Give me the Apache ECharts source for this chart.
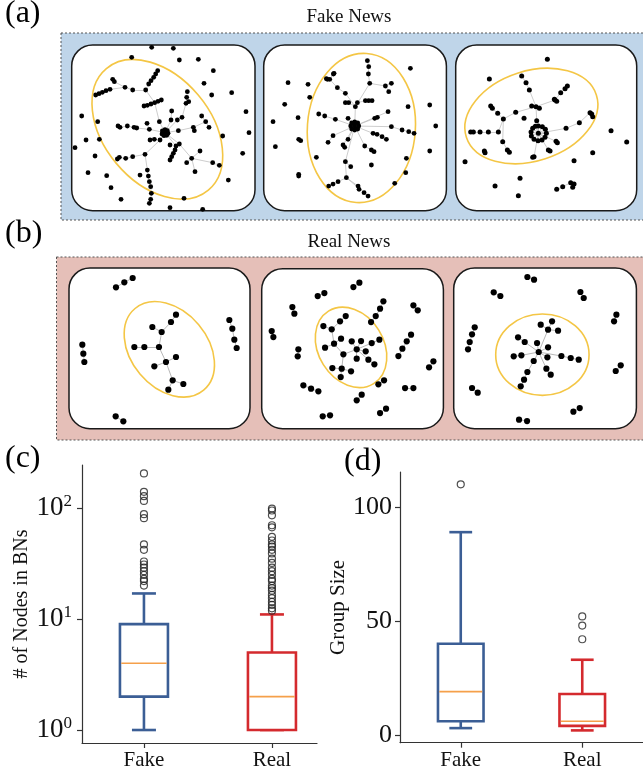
<!DOCTYPE html>
<html><head><meta charset="utf-8">
<script src="https://cdn.jsdelivr.net/npm/echarts@6/dist/echarts.min.js"></script>
<style>html,body{margin:0;padding:0;background:#fff}#main{width:643px;height:777px}</style>
</head><body><div id="main"></div>
<script>
// ================= DATA =================
const categories = ['Fake', 'Real'];
const positions = [1, 2];
// (c) number of nodes in BNs : [min, q1, median, q3, max]
const nodesFake = [1, 2, 4, 9, 17];
const nodesReal = [1, 1, 2, 5, 11];
const nodesFakeOutliers = [205, 140, 128, 116, 88, 81, 47, 42, 33, 31, 29, 27, 25, 23, 22, 20];
const nodesRealOutliers = [99, 95, 86, 70, 67, 55, 51, 47, 45, 42, 39, 35, 32, 29, 27, 25, 23, 22, 20, 19, 18, 16.5, 15.4, 14.3, 13.4, 12.5, 11.9];
const nodesTicks = [1, 10, 100];
// (d) group size : [min, q1, median, q3, max]
const groupFake = [3, 6, 19, 40, 89];
const groupReal = [2, 4, 6, 18, 33];
const groupFakeOutliers = [110];
const groupRealOutliers = [52, 48, 42];
const groupTicks = [0, 50, 100];

// Network sketches: node positions (panel-local units), chains of linked nodes
const a1Paths = [
  [[315,278],[298,245],[284,188],[257,150]],
  [[252,198],[262,196],[273,192],[284,188],[294,184],[304,180]],
  [[257,150],[266,132],[273,122],[281,112],[287,102],[293,92]],
  [[257,150],[218,150],[195,142],[163,125],[158,118]],
  [[195,142],[150,148],[138,152],[127,157],[117,161],[107,165]],
  [[315,278],[333,240],[335,213]],
  [[315,278],[352,240],[366,232],[378,190],[380,172],[382,155]],
  [[378,190],[386,185]],
  [[315,278],[355,272],[400,262],[437,245],[425,228]],
  [[437,245],[447,262]],
  [[400,262],[403,272]],
  [[315,278],[268,268],[230,264],[222,262],[202,258],[180,262],[174,258]],
  [[268,268],[261,250]],
  [[315,278],[300,300],[255,343]],
  [[300,300],[283,298],[270,300]],
  [[255,343],[218,350],[197,355],[178,352],[172,357]],
  [[255,343],[262,390],[265,408],[268,425],[272,440],[274,460],[272,478],[268,490]],
  [[315,278],[348,318],[345,330],[340,340],[335,350],[330,360]],
  [[315,278],[358,312],[395,355],[420,333]],
  [[395,355],[405,395]],
  [[395,355],[380,368]],
  [[395,355],[458,368],[478,376]]
];
const a1Dots = [[275,22],[340,25],[215,52],[358,60],[415,58],[460,92],[432,130],[515,158],[455,165],[558,215],[65,228],[78,300],[45,323],[105,348],[567,278],[548,340],[488,288],[84,398],[140,407],[153,443],[183,478],[330,503],[428,508],[505,420],[372,475],[113,245],[118,298],[240,405],[330,315]];
const a1Hub = [315,278];
const a1Ring = [[315,269],[322,272],[324,280],[320,286],[312,287],[306,282],[307,273]];
const a1Ellipse = [292,268,238,160,50];

const a2Paths = [
  [[290,258],[292,200],[335,130]],
  [[335,130],[331,102],[332,80],[328,62]],
  [[335,130],[382,138],[400,130]],
  [[382,138],[392,155]],
  [[292,200],[262,160],[238,143],[215,118],[226,102]],
  [[215,118],[205,116]],
  [[292,200],[272,188],[262,188]],
  [[292,200],[298,188],[322,182],[332,182],[342,182]],
  [[290,258],[232,238],[200,228],[182,222]],
  [[290,258],[270,235]],
  [[290,258],[350,235],[358,232]],
  [[290,258],[390,215]],
  [[290,258],[400,260],[432,270],[452,275],[468,280]],
  [[290,258],[345,280],[357,283],[372,290],[385,298]],
  [[290,258],[320,318],[340,330],[348,335]],
  [[290,258],[262,365],[265,413]],
  [[262,365],[278,380]],
  [[265,413],[240,425],[225,432],[212,438]],
  [[265,413],[300,438],[303,448]],
  [[265,413],[318,458],[330,468]],
  [[290,258],[225,287],[210,307]],
  [[290,258],[255,315],[260,322]],
  [[290,258],[270,298]]
];
const a2Dots = [[90,128],[150,133],[155,172],[80,193],[45,245],[120,233],[52,320],[122,298],[128,302],[122,403],[122,408],[175,352],[457,85],[450,200],[515,195],[533,258],[515,333],[445,355],[443,398],[340,375],[410,430],[228,100],[208,118]];
const a2Hub = [290,258];
const a2Ring = [[290,246],[299,249],[302,258],[299,267],[290,270],[281,267],[278,258],[281,249]];
const a2Ellipse = [310,264,162,224,4];

const a3Paths = [
  [[265,280],[260,242],[258,200]],
  [[258,200],[238,150],[228,128],[215,108]],
  [[258,200],[315,180],[332,158],[345,146],[352,138]],
  [[258,200],[197,217],[160,237]],
  [[160,237],[143,220],[127,205],[122,198]],
  [[160,237],[145,276],[115,276],[90,276],[70,276],[62,276]],
  [[160,237],[158,305],[172,330],[178,337]],
  [[265,280],[348,265],[388,248],[420,218]],
  [[420,218],[428,230]],
  [[265,280],[295,330]],
  [[265,280],[318,304]],
  [[265,280],[252,350]],
  [[320,448],[338,440],[362,428]],
  [[362,428],[372,432]],
  [[362,428],[368,442]]
];
const a3Dots = [[292,58],[118,117],[45,365],[135,438],[210,415],[205,467],[372,362],[428,338],[483,272],[530,306],[222,235],[245,198],[268,205],[105,338],[300,333],[322,308],[248,352],[425,222],[103,333],[313,178],[320,184]];
const a3Hub = [265,280];
const a3Ring = [[265,258],[277,260],[286,268],[289,280],[285,292],[276,300],[264,302],[252,298],[244,288],[243,276],[248,265],[256,259]];
const a3Ellipse = [244,228,205,135,-18];

const b1Paths = [
  [[363,170],[348,192],[320,222],[292,207]],
  [[320,222],[312,267],[268,267],[238,267]],
  [[312,267],[333,312],[363,297]],
  [[333,312],[298,325]],
  [[333,312],[353,367],[385,378]],
  [[353,367],[340,395]],
  [[183,88],[208,73],[233,60]],
  [[82,260],[85,287],[88,312]],
  [[523,186],[532,212],[538,245],[545,270]],
  [[182,475],[205,490]]
];
const b1Ellipse = [343,274,160,115,50];

const b2Paths = [
  [[265,277],[237,245],[230,202],[205,192]],
  [[230,202],[255,178],[272,162]],
  [[237,245],[210,257]],
  [[237,245],[258,230]],
  [[265,277],[260,320],[232,318]],
  [[260,320],[288,328]],
  [[260,320],[257,345]],
  [[265,277],[305,262],[290,238]],
  [[305,262],[318,237]],
  [[305,262],[332,268]],
  [[305,262],[305,290]],
  [[305,262],[340,293],[358,307]],
  [[305,262],[350,243],[373,233]],
  [[348,180],[362,162],[375,140],[385,118]],
  [[295,75],[313,62]],[[188,102],[208,93]],[[112,135],[118,155]],[[50,207],[55,225]],
  [[130,262],[128,283]],[[475,130],[488,145]],[[468,218],[455,238],[442,260],[430,282]],
  [[535,298],[522,316]],[[145,370],[168,380],[190,388]],[[387,355],[370,367]],
  [[320,398],[305,415]],[[450,378],[475,378]],[[203,463],[225,460]],[[393,440],[375,453]]
];
const b2Ellipse = [288,256,128,98,58];

const b3Paths = [
  [[272,270],[300,203],[278,188]],
  [[300,203],[312,178]],
  [[300,203],[330,206]],
  [[272,270],[267,243]],
  [[272,270],[230,240],[210,226]],
  [[272,270],[300,256]],
  [[272,270],[220,280],[197,283]],
  [[272,270],[298,286]],
  [[272,270],[340,282],[368,288],[392,293]],
  [[272,270],[257,297],[238,330],[228,353],[218,373]],
  [[272,270],[295,320],[308,338]],
  [[238,45],[258,53]],[[137,91],[157,102]],[[397,90],[407,108]],[[505,158],[498,178]],
  [[80,196],[72,217],[65,240],[60,262]],[[72,378],[89,392]],[[518,310],[503,327]],
  [[395,438],[376,449]],[[213,473],[237,477]]
];
const b3Ellipse = [283,278,140,122,0];

// ================= LAYOUT =================
const FONT = "'Liberation Serif','Times New Roman',serif";
const AXC = '#333';
const fakeColor = '#3b5e95', realColor = '#d42a2e', medianColor = '#f5a04a';
// panel boxes: pixel rect + local extents [x0,x1,y0,y1]
const panels = [
  {rect:[71.7,45,183.3,165.7], ext:[35,585,15,512], paths:a1Paths, dots:a1Dots, hub:a1Hub, ring:a1Ring, ell:a1Ellipse, size:4.8, edge:'#b8b8b8'},
  {rect:[263.7,45,182.7,165.7], ext:[17,565,15,512], paths:a2Paths, dots:a2Dots, hub:a2Hub, ring:a2Ring, ell:a2Ellipse, size:4.8, edge:'#b8b8b8'},
  {rect:[455.7,45,181,165.7], ext:[17,560,15,512], paths:a3Paths, dots:a3Dots, hub:a3Hub, ring:a3Ring, ell:a3Ellipse, size:5, edge:'#b8b8b8'},
  {rect:[69,268,181,160.7], ext:[42,585,30,512], paths:b1Paths, dots:[], ell:b1Ellipse, size:6.2, edge:'#999'},
  {rect:[261.7,268.7,181.7,160], ext:[20,565,20,500], paths:b2Paths, dots:[], ell:b2Ellipse, size:6.2, edge:'#999'},
  {rect:[453.7,268,182.7,160.7], ext:[17,565,18,500], paths:b3Paths, dots:[], ell:b3Ellipse, size:6.2, edge:'#999'}
];

function buildGraph(paths, dots, hub, ring) {
  const nodes = [], links = [], idx = {};
  function add(p) {
    const k = p[0] + ',' + p[1];
    if (!(k in idx)) { idx[k] = nodes.length; nodes.push({value: [p[0], p[1]]}); }
    return idx[k];
  }
  paths.forEach(path => {
    for (let i = 0; i < path.length; i++) {
      const j = add(path[i]);
      if (i > 0) links.push({source: add(path[i - 1]), target: j});
    }
  });
  (dots || []).forEach(add);
  if (ring) { const h = add(hub); ring.forEach(p => links.push({source: h, target: add(p)})); }
  return {nodes, links};
}

const grids = [], xAxes = [], yAxes = [], series = [], graphics = [];

// backgrounds
graphics.push({type:'rect', silent:true, z:-5, shape:{x:61, y:33, width:600, height:187}, style:{fill:'#bfd5e9', stroke:'#555', lineWidth:1, lineDash:[2,2]}});
graphics.push({type:'rect', silent:true, z:-5, shape:{x:56.5, y:257, width:600, height:183}, style:{fill:'#e5bfb8', stroke:'#555', lineWidth:1, lineDash:[2,2]}});
graphics.push({type:'text', silent:true, left:5, top:-2, style:{text:'(a)', font:'32px ' + FONT, fill:'#000'}});
graphics.push({type:'text', silent:true, left:5, top:218, style:{text:'(b)', font:'32px ' + FONT, fill:'#000'}});
graphics.push({type:'text', silent:true, left:5, top:443, style:{text:'(c)', font:'32px ' + FONT, fill:'#000'}});
graphics.push({type:'text', silent:true, left:344, top:446, style:{text:'(d)', font:'32px ' + FONT, fill:'#000'}});
graphics.push({type:'text', silent:true, x:349, y:8, style:{text:'Fake News', font:'19px ' + FONT, fill:'#111', textAlign:'center'}});
graphics.push({type:'text', silent:true, x:349, y:233, style:{text:'Real News', font:'19px ' + FONT, fill:'#111', textAlign:'center'}});

panels.forEach((p, i) => {
  const [l, t, w, h] = p.rect;
  graphics.push({type:'rect', silent:true, z:-4, shape:{x:l, y:t, width:w, height:h, r:21}, style:{fill:'#fff', stroke:'#1a1a1a', lineWidth:1.5}});
  grids.push({left:l, top:t, width:w, height:h, containLabel:false});
  xAxes.push({type:'value', gridIndex:i, min:p.ext[0], max:p.ext[1], show:false});
  yAxes.push({type:'value', gridIndex:i, min:p.ext[2], max:p.ext[3], inverse:true, show:false});
  const g = buildGraph(p.paths, p.dots, p.hub, p.ring);
  series.push({
    type:'custom', coordinateSystem:'cartesian2d', xAxisIndex:i, yAxisIndex:i, silent:true, z:1,
    data:[p.ell],
    renderItem: function (params, api) {
      const c = api.coord([api.value(0), api.value(1)]);
      const s = api.size([api.value(2), api.value(3)]);
      return {type:'ellipse', x:c[0], y:c[1], rotation:-api.value(4) * Math.PI / 180,
        shape:{cx:0, cy:0, rx:Math.abs(s[0]), ry:Math.abs(s[1])},
        style:{fill:'none', stroke:'#f4c645', lineWidth:1.6}};
    }
  });
  series.push({
    type:'graph', coordinateSystem:'cartesian2d', xAxisIndex:i, yAxisIndex:i, layout:'none',
    silent:true, animation:false, z:2,
    data:g.nodes, links:g.links, symbol:'circle', symbolSize:p.size,
    itemStyle:{color:'#000'}, lineStyle:{color:p.edge, width:0.7, opacity:1, curveness:0},
    label:{show:false}, emphasis:{disabled:true}
  });
});

// ---------- box plots ----------
const BOXW = 0.375;
function boxRender(colors) {
  return function (params, api) {
    const x = api.value(0);
    const pMin = api.coord([x, api.value(1)]);
    const pQ1 = api.coord([x, api.value(2)]);
    const pMed = api.coord([x, api.value(3)]);
    const pQ3 = api.coord([x, api.value(4)]);
    const pMax = api.coord([x, api.value(5)]);
    const half = Math.abs(api.size([BOXW, 0], [x, api.value(3)])[0]) / 2;
    const cap = half / 2;
    const col = colors[params.dataIndex];
    const st = {stroke:col, lineWidth:2.6, fill:'none'};
    const cx = pMed[0];
    return {type:'group', children:[
      {type:'line', shape:{x1:cx, y1:pQ1[1], x2:cx, y2:pMin[1]}, style:st},
      {type:'line', shape:{x1:cx, y1:pQ3[1], x2:cx, y2:pMax[1]}, style:st},
      {type:'line', shape:{x1:cx - cap, y1:pMin[1], x2:cx + cap, y2:pMin[1]}, style:st},
      {type:'line', shape:{x1:cx - cap, y1:pMax[1], x2:cx + cap, y2:pMax[1]}, style:st},
      {type:'rect', shape:{x:cx - half, y:pQ3[1], width:2 * half, height:pQ1[1] - pQ3[1]}, style:{stroke:col, lineWidth:2.6, fill:'#fff'}},
      {type:'line', shape:{x1:cx - half + 1.3, y1:pMed[1], x2:cx + half - 1.3, y2:pMed[1]}, style:{stroke:medianColor, lineWidth:1.6}}
    ]};
  };
}

function catAxis(gi, min, max) {
  return {type:'value', gridIndex:gi, min:min, max:max, splitLine:{show:false},
    axisLine:{show:true, onZero:false, lineStyle:{color:AXC, width:1.2}},
    axisTick:{show:true, customValues:positions, length:5, lineStyle:{color:AXC, width:1.2}},
    axisLabel:{customValues:positions, margin:7, fontFamily:FONT, fontSize:21, color:'#111',
      formatter: v => categories[Math.round(v) - 1] || ''}};
}

// (c)
grids.push({left:82, top:465, width:235, height:278});
xAxes.push(catAxis(6, 0.516, 2.352));
yAxes.push({type:'log', logBase:10, gridIndex:6, min:0.7638, max:244.3, splitLine:{show:false},
  name:'# of Nodes in BNs', nameLocation:'middle', nameGap:50, nameRotate:90,
  nameTextStyle:{fontFamily:FONT, fontSize:20, color:'#111'},
  axisLine:{show:true, lineStyle:{color:AXC, width:1.2}},
  axisTick:{show:true, customValues:nodesTicks, length:5, lineStyle:{color:AXC, width:1.2}},
  axisLabel:{customValues:nodesTicks, margin:10, color:'#111',
    formatter: v => '{b|10}{s|' + Math.round(Math.log10(v)) + '}',
    rich:{b:{fontFamily:FONT, fontSize:27, lineHeight:30, color:'#111'},
          s:{fontFamily:FONT, fontSize:17, lineHeight:17, verticalAlign:'top', color:'#111'}}}});
series.push({type:'custom', coordinateSystem:'cartesian2d', xAxisIndex:6, yAxisIndex:6, silent:true, z:3,
  data:[[positions[0]].concat(nodesFake), [positions[1]].concat(nodesReal)],
  renderItem: boxRender([fakeColor, realColor])});
series.push({type:'scatter', xAxisIndex:6, yAxisIndex:6, silent:true, z:4, symbol:'circle', symbolSize:7,
  itemStyle:{color:'rgba(0,0,0,0)', borderColor:'#222', borderWidth:1.2},
  data: nodesFakeOutliers.map(v => [positions[0], v]).concat(nodesRealOutliers.map(v => [positions[1], v]))});

// (d)
grids.push({left:400, top:472, width:256, height:270.7});
xAxes.push(catAxis(7, 0.5, 2.5));
yAxes.push({type:'value', gridIndex:7, min:-3.4, max:115.4, splitLine:{show:false},
  name:'Group Size', nameLocation:'middle', nameGap:43, nameRotate:90,
  nameTextStyle:{fontFamily:FONT, fontSize:21, color:'#111'},
  axisLine:{show:true, onZero:false, lineStyle:{color:AXC, width:1.2}},
  axisTick:{show:true, customValues:groupTicks, length:5, lineStyle:{color:AXC, width:1.2}},
  axisLabel:{customValues:groupTicks, margin:8, fontFamily:FONT, fontSize:26, color:'#111'}});
series.push({type:'custom', coordinateSystem:'cartesian2d', xAxisIndex:7, yAxisIndex:7, silent:true, z:3,
  data:[[positions[0]].concat(groupFake), [positions[1]].concat(groupReal)],
  renderItem: boxRender([fakeColor, realColor])});
series.push({type:'scatter', xAxisIndex:7, yAxisIndex:7, silent:true, z:4, symbol:'circle', symbolSize:7,
  itemStyle:{color:'rgba(0,0,0,0)', borderColor:'#222', borderWidth:1.2},
  data: groupFakeOutliers.map(v => [positions[0], v]).concat(groupRealOutliers.map(v => [positions[1], v]))});

const chart = echarts.init(document.getElementById('main'), null, {renderer:'canvas'});
chart.setOption({
  animation:false,
  backgroundColor:'#fff',
  grid:grids, xAxis:xAxes, yAxis:yAxes, series:series,
  graphic:{elements:graphics}
});
</script></body></html>
